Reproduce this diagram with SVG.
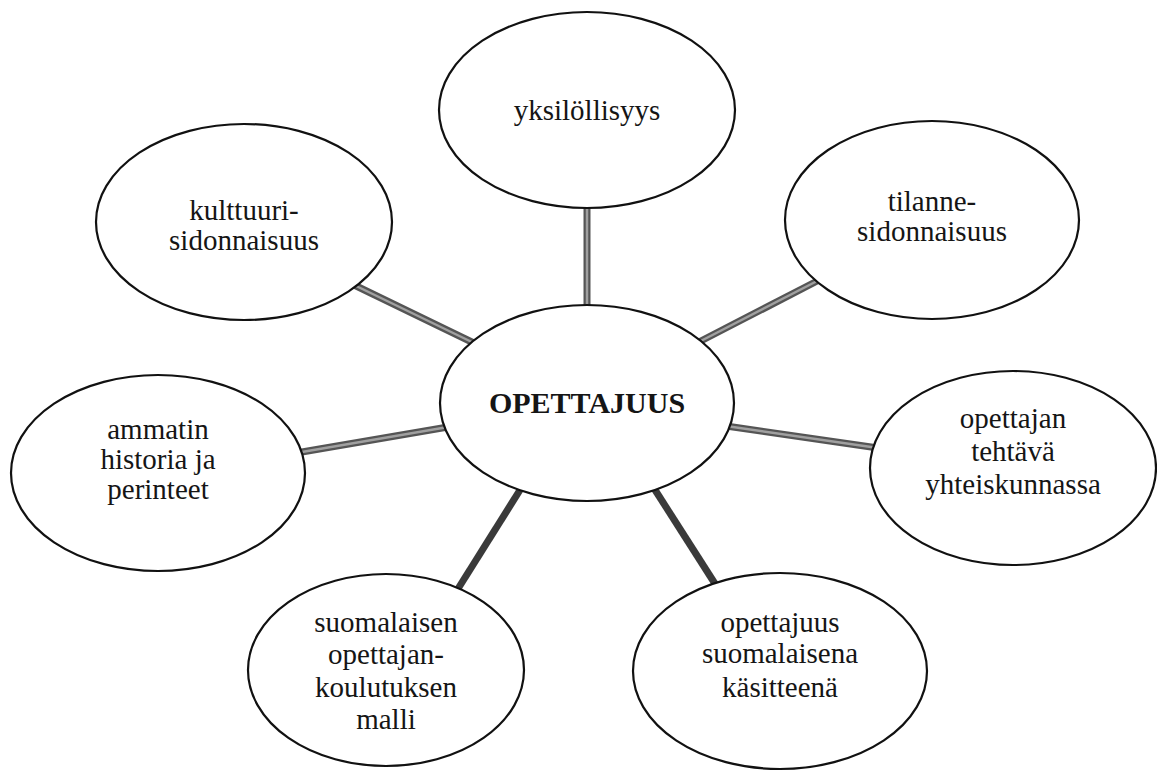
<svg xmlns="http://www.w3.org/2000/svg" width="1157" height="771" viewBox="0 0 1157 771">
<style>
.node ellipse{fill:#fff;stroke:#111;stroke-width:2.2}
.node text{font-family:'Liberation Serif',serif;font-size:29px;fill:#151515;text-anchor:middle}
.node text.main{font-weight:bold;font-size:30px}
.c-outer{stroke:#555;stroke-width:7;fill:none}
.c-inner{stroke:#a0a0a0;stroke-width:2.5;fill:none}
.c-dark{stroke:#3a3a3a;stroke-width:7;fill:none}
</style>
<rect width="1157" height="771" fill="#fff"/>
<g id="connectors">
  <line class="c-outer" x1="587" y1="200" x2="587" y2="312"/>
  <line class="c-inner" x1="587" y1="200" x2="587" y2="312"/>
  <line class="c-outer" x1="350" y1="283" x2="480" y2="346"/>
  <line class="c-inner" x1="350" y1="283" x2="480" y2="346"/>
  <line class="c-outer" x1="823" y1="278" x2="695" y2="344"/>
  <line class="c-inner" x1="823" y1="278" x2="695" y2="344"/>
  <line class="c-outer" x1="296" y1="453" x2="448" y2="427"/>
  <line class="c-inner" x1="296" y1="453" x2="448" y2="427"/>
  <line class="c-outer" x1="726" y1="426" x2="878" y2="448"/>
  <line class="c-inner" x1="726" y1="426" x2="878" y2="448"/>
  <line class="c-dark" x1="525" y1="482" x2="456" y2="592"/>
  <line class="c-dark" x1="650" y1="482" x2="719" y2="590"/>
</g>
<g id="node-yksilollisyys" class="node">
  <ellipse cx="587" cy="110" rx="148" ry="98"/>
  <text x="587" y="120">yksilöllisyys</text>
</g>
<g id="node-kulttuuri" class="node">
  <ellipse cx="244" cy="222" rx="148" ry="98"/>
  <text x="244" y="220">kulttuuri-</text>
  <text x="244" y="250">sidonnaisuus</text>
</g>
<g id="node-tilanne" class="node">
  <ellipse cx="932" cy="220" rx="147" ry="99"/>
  <text x="932" y="211">tilanne-</text>
  <text x="932" y="241">sidonnaisuus</text>
</g>
<g id="node-opettajuus-center" class="node">
  <ellipse cx="587" cy="403" rx="147" ry="98"/>
  <text class="main" x="587" y="413">OPETTAJUUS</text>
</g>
<g id="node-ammatin" class="node">
  <ellipse cx="158" cy="473" rx="147" ry="98"/>
  <text x="158" y="439">ammatin</text>
  <text x="158" y="469">historia ja</text>
  <text x="158" y="499">perinteet</text>
</g>
<g id="node-opettajan-tehtava" class="node">
  <ellipse cx="1013" cy="468" rx="143" ry="97"/>
  <text x="1013" y="428">opettajan</text>
  <text x="1013" y="461">tehtävä</text>
  <text x="1013" y="494">yhteiskunnassa</text>
</g>
<g id="node-suomalaisen" class="node">
  <ellipse cx="386" cy="670" rx="138" ry="96"/>
  <text x="386" y="632">suomalaisen</text>
  <text x="386" y="664">opettajan-</text>
  <text x="386" y="697">koulutuksen</text>
  <text x="386" y="729">malli</text>
</g>
<g id="node-opettajuus-kasitteena" class="node">
  <ellipse cx="780" cy="671" rx="147" ry="98"/>
  <text x="780" y="632">opettajuus</text>
  <text x="780" y="663">suomalaisena</text>
  <text x="780" y="697">käsitteenä</text>
</g>
</svg>
